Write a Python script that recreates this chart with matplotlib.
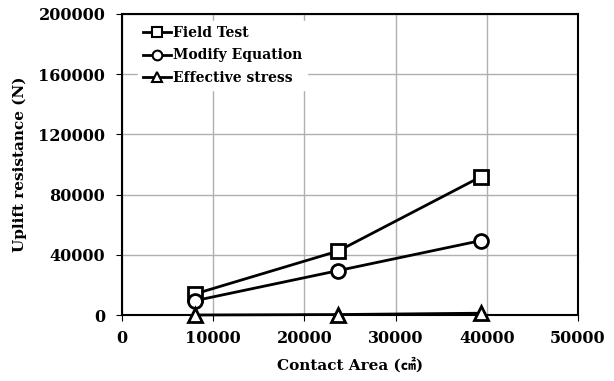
import matplotlib
matplotlib.use("Agg")
import matplotlib.pyplot as plt

# values
area = [8000, 23700, 39400]
field_test = [14000, 42500, 92000]
modify_eq = [9500, 29500, 49500]
effective = [0, 300, 1200]

series = [
    ("Field Test", field_test, "s"),
    ("Modify Equation", modify_eq, "o"),
    ("Effective stress", effective, "^"),
]

plt.rcParams['font.family'] = ['DejaVu Serif', 'Noto Sans CJK KR']
plt.rcParams['font.weight'] = 'bold'

fig = plt.figure(figsize=(6.14, 3.81), dpi=100)
ax = fig.add_axes([122/614, 1 - 315/381, (578-122)/614, (315-14)/381])

for name, vals, mk in series:
    ax.plot(area, vals, color='black', lw=2, marker=mk, markersize=10,
            markerfacecolor='white', markeredgecolor='black', markeredgewidth=2,
            label=name, clip_on=False, zorder=3)

ax.set_xlim(0, 50000)
ax.set_ylim(0, 200000)
ax.set_xticks(range(0, 50001, 10000))
ax.set_yticks(range(0, 200001, 40000))
ax.grid(True, color='#b0b0b0', lw=1)
ax.set_axisbelow(True)
for s in ax.spines.values():
    s.set_linewidth(1.5)
    s.set_color('black')
ax.tick_params(labelsize=11.5, length=4, direction='out')
ax.tick_params(axis='x', pad=7)
ax.tick_params(axis='y', pad=8)
for t in ax.get_xticklabels() + ax.get_yticklabels():
    t.set_fontweight('bold')

ax.set_xlabel("Contact Area (㎠)", fontsize=11, fontweight='bold', labelpad=7)
ax.set_ylabel("Uplift resistance (N)", fontsize=11, fontweight='bold', labelpad=8)

leg = ax.legend(loc='upper left', frameon=True, fontsize=10, handlelength=2.0,
                handletextpad=0.15, labelspacing=0.62, borderpad=0.35,
                bbox_to_anchor=(0.02, 1.0))
leg.get_frame().set_edgecolor('white')
leg.get_frame().set_alpha(1)
for h in leg.legend_handles:
    h.set_markersize(7)
    h.set_markeredgewidth(1.5)
for t in leg.get_texts():
    t.set_fontweight('bold')

fig.savefig("out.png", dpi=100)
